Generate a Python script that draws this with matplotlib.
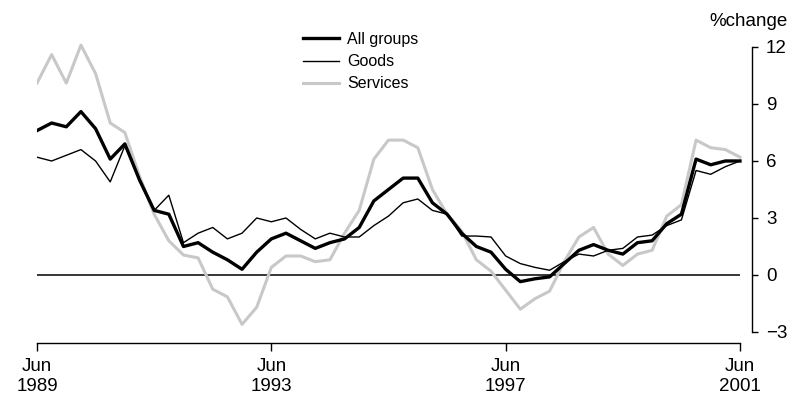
import matplotlib
matplotlib.use('Agg')
import matplotlib.pyplot as plt
import numpy as np

plt.rcParams['font.family'] = ['Liberation Sans', 'DejaVu Sans']

# quarterly, Jun 1989 .. Jun 2001
quarters = np.arange(49)
tick_pos = [0, 16, 32, 48]
tick_labels = ['Jun\n1989', 'Jun\n1993', 'Jun\n1997', 'Jun\n2001']

all_groups = [7.6, 8.0, 7.8, 8.6, 7.7, 6.1, 6.9, 5.0, 3.4, 3.2,
              1.5, 1.7, 1.2, 0.8, 0.3, 1.2, 1.9, 2.2, 1.8, 1.4,
              1.7, 1.9, 2.5, 3.9, 4.5, 5.1, 5.1, 3.8, 3.2, 2.2,
              1.5, 1.2, 0.3, -0.35, -0.2, -0.1, 0.6, 1.3, 1.6, 1.3,
              1.1, 1.7, 1.8, 2.7, 3.2, 6.1, 5.8, 6.0, 6.0]
goods = [6.2, 6.0, 6.3, 6.6, 6.0, 4.9, 6.8, 5.0, 3.4, 4.2,
         1.7, 2.2, 2.5, 1.9, 2.2, 3.0, 2.8, 3.0, 2.4, 1.9,
         2.2, 2.0, 2.0, 2.6, 3.1, 3.8, 4.0, 3.4, 3.2, 2.05,
         2.05, 2.0, 1.0, 0.6, 0.4, 0.25, 0.7, 1.1, 1.0, 1.3,
         1.4, 2.0, 2.1, 2.6, 2.9, 5.5, 5.3, 5.7, 6.0]
services = [10.1, 11.6, 10.1, 12.1, 10.6, 8.0, 7.5, 5.2, 3.2, 1.8,
            1.05, 0.9, -0.75, -1.15, -2.6, -1.7, 0.4, 1.0, 1.0, 0.7,
            0.8, 2.2, 3.4, 6.1, 7.1, 7.1, 6.7, 4.5, 3.2, 2.3,
            0.8, 0.2, -0.8, -1.8, -1.25, -0.85, 0.7, 2.0, 2.5, 1.1,
            0.5, 1.1, 1.3, 3.1, 3.7, 7.1, 6.7, 6.6, 6.2]

W, H = 793, 396
fig = plt.figure(figsize=(W / 100, H / 100), dpi=100)

# axes placed in pixel terms: x=0 at px 37, x=48 at px 740, right spine at px 752
px_per_q = (740 - 37) / 48
x_max = 48 + (752 - 740) / px_per_q
y_min, y_max = -3.58, 12.3
ax = fig.add_axes([37 / W, (H - 343) / H, (752 - 37) / W, (343 - (275 - y_max * 19)) / H])

ax.plot(quarters, services, color='#c8c8c8', lw=2.2, label='Services', zorder=2)
ax.plot(quarters, goods, color='black', lw=1.0, label='Goods', zorder=3)
ax.plot(quarters, all_groups, color='black', lw=2.4, label='All groups', zorder=4)
ax.hlines(0, quarters[0], quarters[-1], color='black', lw=1.1, zorder=1)

ax.set_xlim(0, x_max)
ax.set_ylim(y_min, y_max)

for s in ['top', 'left']:
    ax.spines[s].set_visible(False)
ax.spines['right'].set_bounds(-3, 12)
ax.spines['bottom'].set_bounds(0, 48)
ax.spines['right'].set_linewidth(1.0)
ax.spines['bottom'].set_linewidth(1.0)

ax.yaxis.tick_right()
ax.set_yticks([-3, 0, 3, 6, 9, 12])
ax.set_xticks(tick_pos)
ax.set_xticklabels(tick_labels, multialignment='center')
ax.tick_params(axis='y', length=4, width=1.0, pad=6, labelsize=13.5)
ax.tick_params(axis='x', length=6, width=1.0, pad=5, labelsize=13.5)

fig.text(788 / W, 1 - 22 / H, '%change', ha='right', va='center', fontsize=13.5)

handles, labels = ax.get_legend_handles_labels()
order = [2, 1, 0]
ax.legend([handles[i] for i in order], [labels[i] for i in order],
          loc='upper left', bbox_to_anchor=(303 / W, 1 - 32 / H),
          bbox_transform=fig.transFigure, frameon=False, fontsize=11.5,
          handlelength=2.25, handletextpad=0.5, labelspacing=0.45,
          borderaxespad=0, borderpad=0)

fig.savefig('out.png', dpi=100)
